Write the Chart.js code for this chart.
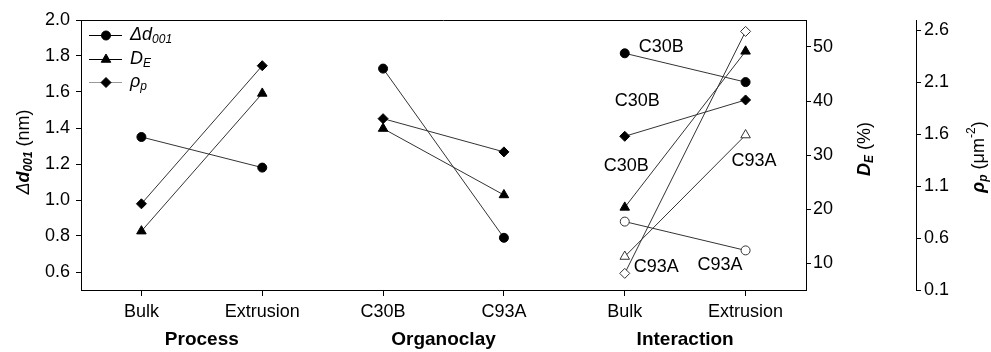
<!DOCTYPE html>
<html><head><meta charset="utf-8">
<script src="https://cdn.jsdelivr.net/npm/chart.js@4/dist/chart.umd.min.js"></script>
<style>html,body{margin:0;padding:0;background:#fff}#wrap{width:991px;height:352px}</style>
</head><body><div id="wrap"><canvas id="c" width="991" height="352"></canvas></div>
<script>
// ---- data ----
const categories = ['Bulk', 'Extrusion', 'C30B', 'C93A', 'Bulk', 'Extrusion'];
const groupTitles = ['Process', 'Organoclay', 'Interaction'];
const d001Ticks = [0.6, 0.8, 1.0, 1.2, 1.4, 1.6, 1.8, 2.0];
const deTicks = [10, 20, 30, 40, 50];
const rhoTicks = [0.1, 0.6, 1.1, 1.6, 2.1, 2.6];

// Process main effect: [Bulk, Extrusion]
const d001Process = [1.35, 1.18];
const deProcess = [15.9, 41.4];
const rhoProcess = [0.93, 2.26];
// Organoclay main effect: [C30B, C93A]
const d001Organoclay = [1.73, 0.79];
const deOrganoclay = [34.9, 22.6];
const rhoOrganoclay = [1.75, 1.43];
// Interaction: [Bulk, Extrusion]
const d001C30B = [1.815, 1.655];
const d001C93A = [0.88, 0.72];
const deC30B = [20.3, 49.2];
const deC93A = [11.2, 33.7];
const rhoC30B = [1.58, 1.93];
const rhoC93A = [0.26, 2.59];

// interaction point labels (text, category index, pixel offset, pixel y)
const pointLabels = [
  {text: 'C30B', idx: 4, dx: 14, y: 47},
  {text: 'C30B', idx: 4, dx: -10, y: 101},
  {text: 'C30B', idx: 4, dx: -21, y: 166},
  {text: 'C93A', idx: 5, dx: -14, y: 161},
  {text: 'C93A', idx: 4, dx: 9, y: 267},
  {text: 'C93A', idx: 5, dx: -48, y: 265}
];

const FONT = "'Liberation Sans', Arial, Helvetica, sans-serif";
const LINE = '#333';

function seg(pair, start, axis, style) {
  const data = categories.map(() => null);
  data[start] = pair[0];
  data[start + 1] = pair[1];
  return Object.assign({data, yAxisID: axis, borderColor: LINE, borderWidth: 1,
    pointBorderWidth: 1, spanGaps: false, fill: false}, style);
}
const circF = {pointStyle: 'circle', pointRadius: 4.5, pointBackgroundColor: '#000', pointBorderColor: '#000'};
const circO = {pointStyle: 'circle', pointRadius: 4.5, pointBackgroundColor: '#fff', pointBorderColor: '#333'};
const triF = {pointStyle: 'triangle', pointRadius: 5.5, pointBackgroundColor: '#000', pointBorderColor: '#000'};
const triO = {pointStyle: 'triangle', pointRadius: 5.5, pointBackgroundColor: '#fff', pointBorderColor: '#333'};
const diaF = {pointStyle: 'rectRot', pointRadius: 5, pointBackgroundColor: '#000', pointBorderColor: '#000'};
const diaO = {pointStyle: 'rectRot', pointRadius: 5, pointBackgroundColor: '#fff', pointBorderColor: '#333'};

const datasets = [
  seg(d001Process, 0, 'y', circF),
  seg(deProcess, 0, 'yDE', triF),
  seg(rhoProcess, 0, 'yR', diaF),
  seg(d001Organoclay, 2, 'y', circF),
  seg(deOrganoclay, 2, 'yDE', triF),
  seg(rhoOrganoclay, 2, 'yR', diaF),
  seg(d001C30B, 4, 'y', circF),
  seg(d001C93A, 4, 'y', circO),
  seg(deC30B, 4, 'yDE', triF),
  seg(deC93A, 4, 'yDE', triO),
  seg(rhoC30B, 4, 'yR', diaF),
  seg(rhoC93A, 4, 'yR', diaO)
];

function rich(ctx, parts, x, y, rot, align) {
  ctx.save();
  ctx.translate(x, y);
  if (rot) ctx.rotate(rot);
  let w = 0;
  parts.forEach(p => { ctx.font = p.f; p.w = ctx.measureText(p.t).width; w += p.w; });
  let cx = align === 'left' ? 0 : -w / 2;
  ctx.textBaseline = 'middle';
  ctx.textAlign = 'left';
  ctx.fillStyle = '#000';
  parts.forEach(p => { ctx.font = p.f; ctx.fillText(p.t, cx, p.dy || 0); cx += p.w; });
  ctx.restore();
}

const decor = {
  id: 'decor',
  afterDraw(chart) {
    const ctx = chart.ctx, a = chart.chartArea, xs = chart.scales.x;
    ctx.save();
    // top frame line
    ctx.strokeStyle = '#000'; ctx.lineWidth = 1;
    ctx.beginPath(); ctx.moveTo(a.left, Math.round(a.top) + 0.5); ctx.lineTo(a.right, Math.round(a.top) + 0.5); ctx.stroke();
    // group titles
    ctx.font = 'bold 19px ' + FONT; ctx.textAlign = 'center'; ctx.textBaseline = 'middle'; ctx.fillStyle = '#000';
    groupTitles.forEach((t, i) => {
      const cx = (xs.getPixelForValue(2 * i) + xs.getPixelForValue(2 * i + 1)) / 2;
      ctx.fillText(t, cx, 340);
    });
    // point labels
    ctx.font = '18px ' + FONT; ctx.textAlign = 'left';
    pointLabels.forEach(l => ctx.fillText(l.text, xs.getPixelForValue(l.idx) + l.dx, l.y));
    // legend
    const rows = [
      {y: 35, style: 'circle', r: 4.5, color: '#000', parts: [{t: 'Δd', f: 'italic 18px ' + FONT}, {t: '001', f: 'italic 12px ' + FONT, dy: 5}]},
      {y: 59, style: 'triangle', r: 5.5, color: '#000', parts: [{t: 'D', f: 'italic 18px ' + FONT}, {t: 'E', f: 'italic 12px ' + FONT, dy: 5}]},
      {y: 82, style: 'rectRot', r: 5, color: '#999', parts: [{t: 'ρ', f: 'italic 18px ' + FONT}, {t: 'p', f: 'italic 12px ' + FONT, dy: 5}]}
    ];
    rows.forEach(r => {
      ctx.strokeStyle = r.color; ctx.lineWidth = 1;
      ctx.beginPath(); ctx.moveTo(89, r.y + 0.5); ctx.lineTo(122, r.y + 0.5); ctx.stroke();
      ctx.fillStyle = '#000'; ctx.strokeStyle = '#000'; ctx.lineWidth = 1;
      Chart.helpers.drawPoint(ctx, {pointStyle: r.style, rotation: 0, radius: r.r, borderWidth: 1}, 106, r.y + 0.5);
      rich(ctx, r.parts, 130, r.y, 0, 'left');
    });
    // axis titles
    rich(ctx, [{t: 'Δ', f: 'italic 18px ' + FONT}, {t: 'd', f: 'italic bold 18px ' + FONT},
      {t: '001', f: 'italic bold 12px ' + FONT, dy: 5}, {t: ' (nm)', f: '18px ' + FONT}], 24, 152, -Math.PI / 2);
    rich(ctx, [{t: 'D', f: 'italic bold 18px ' + FONT}, {t: 'E', f: 'italic bold 12px ' + FONT, dy: 5},
      {t: ' (%)', f: '18px ' + FONT}], 865, 149, -Math.PI / 2);
    rich(ctx, [{t: 'ρ', f: 'italic bold 18px ' + FONT}, {t: 'p', f: 'italic bold 12px ' + FONT, dy: 5},
      {t: ' (μm', f: '18px ' + FONT}, {t: '-2', f: '12px ' + FONT, dy: -7}, {t: ')', f: '18px ' + FONT}], 979, 157, -Math.PI / 2);
    ctx.restore();
  }
};

function yAxis(position, weight, min, max, ticks, digits, width, pad) {
  return {
    position, weight, min, max,
    afterBuildTicks(s) { s.ticks = ticks.map(v => ({value: v})); },
    afterFit(s) { s.width = width; },
    grid: {drawOnChartArea: false, drawTicks: true, tickLength: 5, tickColor: '#000', tickWidth: 1},
    border: {display: true, color: '#000', width: 1},
    ticks: {color: '#000', padding: pad, font: {size: 18, family: FONT},
      callback: v => Number(v).toFixed(digits)}
  };
}

new Chart(document.getElementById('c'), {
  type: 'line',
  data: {labels: categories, datasets},
  options: {
    responsive: false, animation: false,
    layout: {padding: {top: 20, left: 0, right: 0, bottom: 0}},
    plugins: {legend: {display: false}, tooltip: {enabled: false}},
    scales: {
      x: {
        type: 'category', offset: true,
        grid: {drawOnChartArea: false, drawTicks: true, tickLength: 6, tickColor: '#000', offset: false},
        border: {display: true, color: '#000', width: 1},
        ticks: {color: '#000', padding: 5, maxRotation: 0, autoSkip: false, font: {size: 18, family: FONT}},
        afterFit(s) { s.height = 62; }
      },
      y: yAxis('left', 0, 0.5, 2.0, d001Ticks, 1, 81, 6),
      yDE: yAxis('right', 1, 5, 55, deTicks, 0, 110, 2),
      yR: yAxis('right', 2, 0.1, 2.7, rhoTicks, 1, 75, 3)
    }
  },
  plugins: [decor]
});
</script></body></html>
